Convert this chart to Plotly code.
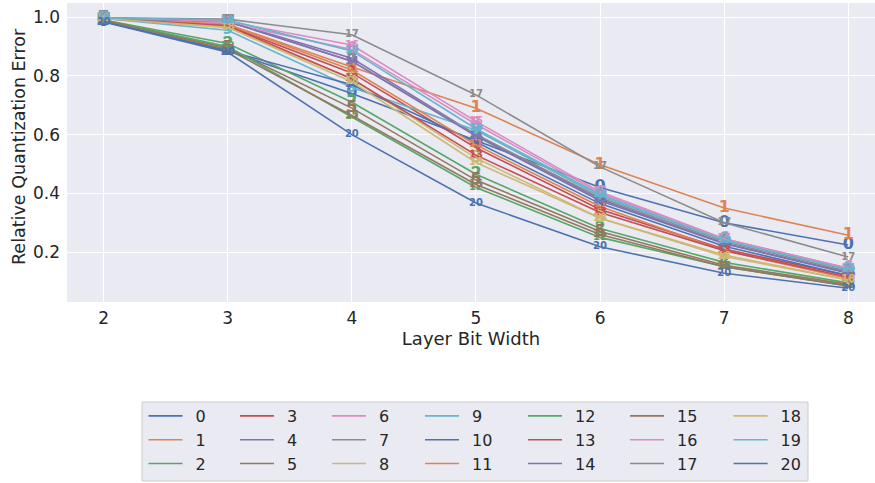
import plotly.graph_objects as go

bit_widths = [2, 3, 4, 5, 6, 7, 8]
layer_ids = list(range(21))
errors = {
    0:  [0.985, 0.885, 0.740, 0.580, 0.420, 0.300, 0.224],
    1:  [0.995, 0.975, 0.830, 0.690, 0.497, 0.350, 0.257],
    2:  [0.990, 0.910, 0.710, 0.465, 0.280, 0.165, 0.095],
    3:  [0.995, 0.970, 0.810, 0.555, 0.345, 0.210, 0.120],
    4:  [0.995, 0.985, 0.860, 0.600, 0.380, 0.230, 0.130],
    5:  [0.990, 0.895, 0.690, 0.445, 0.270, 0.155, 0.090],
    6:  [0.998, 0.980, 0.890, 0.635, 0.400, 0.245, 0.145],
    7:  [0.998, 0.985, 0.850, 0.600, 0.385, 0.235, 0.135],
    8:  [0.995, 0.965, 0.790, 0.520, 0.315, 0.190, 0.105],
    9:  [0.995, 0.955, 0.760, 0.615, 0.390, 0.240, 0.140],
    10: [0.985, 0.885, 0.770, 0.575, 0.365, 0.220, 0.120],
    11: [0.995, 0.975, 0.820, 0.565, 0.355, 0.205, 0.110],
    12: [0.990, 0.900, 0.660, 0.420, 0.250, 0.150, 0.085],
    13: [0.995, 0.970, 0.790, 0.530, 0.335, 0.205, 0.115],
    14: [0.995, 0.985, 0.850, 0.595, 0.375, 0.228, 0.128],
    15: [0.990, 0.890, 0.665, 0.430, 0.260, 0.150, 0.085],
    16: [0.998, 0.985, 0.905, 0.645, 0.405, 0.245, 0.145],
    17: [0.998, 0.993, 0.940, 0.735, 0.490, 0.300, 0.183],
    18: [0.995, 0.965, 0.780, 0.505, 0.315, 0.185, 0.105],
    19: [0.998, 0.990, 0.885, 0.620, 0.395, 0.240, 0.140],
    20: [0.983, 0.880, 0.600, 0.367, 0.218, 0.128, 0.077],
}
palette = ["#4C72B0", "#DD8452", "#55A868", "#C44E52", "#8172B3",
           "#937860", "#DA8BC3", "#8C8C8C", "#CCB974", "#64B5CD"]

W, H = 875, 483
L, T, B = 67, 3, 181
TXT = "#262626"
FONT = "DejaVu Sans"

fig = go.Figure()
for i in layer_ids:
    col = i // 3
    legend_key = "legend" if col == 0 else f"legend{col + 1}"
    c = palette[i % 10]
    fig.add_trace(go.Scatter(
        x=bit_widths, y=errors[i], mode="lines+text", name="\u2002" + str(i),
        text=[str(i)] * len(bit_widths), textposition="middle center",
        textfont=dict(family=FONT, size=16 if i < 10 else 10, color=c, weight="bold"),
        line=dict(color=c, width=1.6),
        legend=legend_key, legendgroup=str(i), showlegend=True,
    ))

col_x = [148.5, 240, 332, 425, 528, 630, 733.6]
legend_top = 399
layout_legends = {}
for col, cx in enumerate(col_x):
    key = "legend" if col == 0 else f"legend{col + 1}"
    layout_legends[key] = dict(
        xref="container", yref="container",
        x=(cx - 5) / W, y=1 - legend_top / H, xanchor="left", yanchor="top",
        orientation="v", bgcolor="rgba(0,0,0,0)", borderwidth=0,
        font=dict(family=FONT, size=16, color=TXT),
        tracegroupgap=0, itemwidth=34,
    )

plot_w = W - L
plot_h = H - T - B
def px_to_paper_x(px):
    return (px - L) / plot_w
def py_to_paper_y(py):
    return (H - B - py) / plot_h

fig.add_shape(type="rect", xref="paper", yref="paper",
              x0=px_to_paper_x(142), x1=px_to_paper_x(808),
              y0=py_to_paper_y(481), y1=py_to_paper_y(402),
              fillcolor="#EAEAF2", line=dict(color="#CCCCCC", width=1), layer="below")

fig.add_annotation(
    text="Relative Quantization Error", textangle=-90,
    xref="paper", yref="paper", x=px_to_paper_x(19), y=py_to_paper_y(147),
    xanchor="center", yanchor="middle", showarrow=False,
    font=dict(family=FONT, size=17.5, color=TXT),
)

fig.update_layout(
    width=W, height=H,
    margin=dict(l=L, r=0, t=T, b=B, autoexpand=False),
    paper_bgcolor="white", plot_bgcolor="#EAEAF2",
    font=dict(family=FONT, size=16, color=TXT),
    **layout_legends,
)
fig.update_xaxes(
    range=[1.705, 8.215], tickvals=bit_widths, ticktext=[str(b) for b in bit_widths],
    showgrid=True, gridcolor="white", gridwidth=1.3, zeroline=False, showline=False,
    tickfont=dict(family=FONT, size=17, color=TXT), ticklabelstandoff=4,
    title=dict(text="Layer Bit Width", font=dict(family=FONT, size=18, color=TXT), standoff=4),
    automargin=True,
)
fig.update_yaxes(
    range=[0.03, 1.048], tickvals=[0.2, 0.4, 0.6, 0.8, 1.0], tickformat=".1f",
    showgrid=True, gridcolor="white", gridwidth=1.3, zeroline=False, showline=False,
    tickfont=dict(family=FONT, size=17, color=TXT), ticklabelstandoff=6,
    automargin=True,
)

fig.write_html("out.html")
